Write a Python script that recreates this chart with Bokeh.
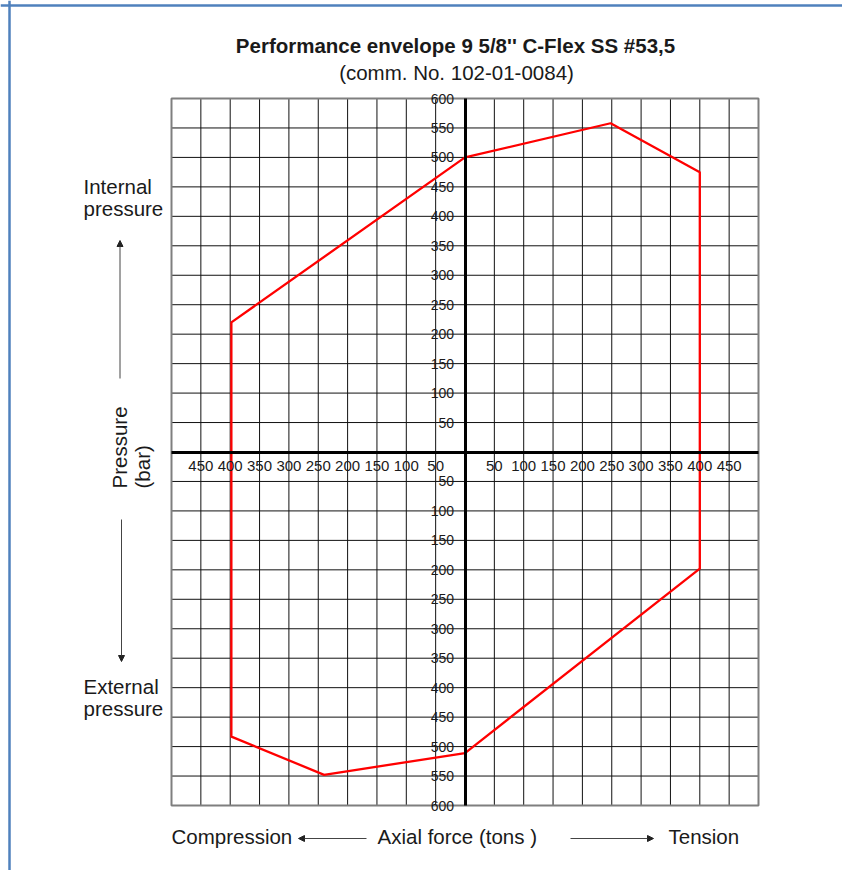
import math
from bokeh.plotting import figure
from bokeh.models import Range1d, FixedTicker, Label, Arrow, NormalHead, Span
from bokeh.embed import file_html
from bokeh.resources import INLINE

# ---------------- data ----------------
envelope_force = [0, 248, 400, 400, 0, -240, -398, -398, 0]          # tons
envelope_pressure = [500, 558, 475, -198, -511, -548, -483, 220, 500]  # bar

grid_force = [-500, -450, -400, -350, -300, -250, -200, -150, -100, -50, 0,
              50, 100, 150, 200, 250, 300, 350, 400, 450, 500]
grid_pressure = [-600, -550, -500, -450, -400, -350, -300, -250, -200, -150, -100, -50, 0,
                 50, 100, 150, 200, 250, 300, 350, 400, 450, 500, 550, 600]

x_ticks = [-450, -400, -350, -300, -250, -200, -150, -100, -50,
           50, 100, 150, 200, 250, 300, 350, 400, 450]
x_tick_labels = ["450", "400", "350", "300", "250", "200", "150", "100", "50",
                 "50", "100", "150", "200", "250", "300", "350", "400", "450"]
y_ticks = [-600, -550, -500, -450, -400, -350, -300, -250, -200, -150, -100, -50,
           50, 100, 150, 200, 250, 300, 350, 400, 450, 500, 550, 600]
y_tick_labels = ["600", "550", "500", "450", "400", "350", "300", "250", "200", "150", "100", "50",
                 "50", "100", "150", "200", "250", "300", "350", "400", "450", "500", "550", "600"]

title_text = "Performance envelope 9 5/8'' C-Flex SS #53,5"
subtitle_text = "(comm. No. 102-01-0084)"

# ---------------- layout ----------------
W, H = 842, 870
GL, GR, GT, GB = 171, 758, 98, 805     # grid edges in canvas pixels
XMIN, XMAX = grid_force[0], grid_force[-1]
YMIN, YMAX = grid_pressure[0], grid_pressure[-1]
sx = (GR - GL) / (XMAX - XMIN)
sy = (GB - GT) / (YMAX - YMIN)
xr = Range1d(XMIN - GL / sx, XMAX + (W - GR) / sx)
yr = Range1d(YMIN - (H - GB) / sy, YMAX + GT / sy)

FONT = "Liberation Sans"

p = figure(width=W, height=H, x_range=xr, y_range=yr, min_border=0,
           toolbar_location=None, output_backend="svg")
p.outline_line_color = None
p.xgrid.visible = False
p.ygrid.visible = False
p.background_fill_color = "white"
p.border_fill_color = "white"

# grid
nx, ny = len(grid_force), len(grid_pressure)
p.segment(x0=grid_force, y0=[YMIN] * nx, x1=grid_force, y1=[YMAX] * nx,
          line_color="#111111", line_width=1)
p.segment(x0=[XMIN] * ny, y0=grid_pressure, x1=[XMAX] * ny, y1=grid_pressure,
          line_color="#111111", line_width=1)
p.quad(left=[XMIN], right=[XMAX], bottom=[YMIN], top=[YMAX],
       fill_color=None, line_color="#7f7f7f", line_width=2)

# axes through the origin
xa = p.xaxis[0]
xa.fixed_location = 0
xa.bounds = (XMIN, XMAX)
xa.ticker = FixedTicker(ticks=x_ticks)
xa.major_label_overrides = dict(zip(x_ticks, x_tick_labels))
xa.axis_line_width = 3
xa.axis_line_color = "black"
xa.major_tick_line_color = None
xa.minor_tick_line_color = None
xa.major_label_standoff = 3
xa.major_label_text_font = FONT
xa.major_label_text_font_size = "15px"
xa.major_label_text_color = "#1a1a1a"

ya = p.yaxis[0]
ya.fixed_location = 0
ya.bounds = (YMIN, YMAX)
ya.ticker = FixedTicker(ticks=y_ticks)
ya.major_label_overrides = dict(zip(y_ticks, y_tick_labels))
ya.axis_line_width = 3
ya.axis_line_color = "black"
ya.major_tick_line_color = None
ya.minor_tick_line_color = None
ya.major_label_standoff = 5
ya.major_label_text_font = FONT
ya.major_label_text_font_size = "14px"
ya.major_label_text_color = "#1a1a1a"

# envelope
p.line(envelope_force, envelope_pressure, line_color="#ff0000", line_width=2.3)

# ---------------- texts ----------------
def cx(px):  # page x -> canvas screen x
    return px

def cy(py):  # page y -> screen y measured from bottom
    return H - py

def lab(text, px, py, align="left", bold=False, angle=0.0, size="20.5px", baseline="alphabetic"):
    p.add_layout(Label(x=cx(px), y=cy(py), x_units="screen", y_units="screen",
                       text=text, text_align=align, text_baseline=baseline,
                       text_font=FONT, text_font_size=size,
                       text_font_style="bold" if bold else "normal",
                       text_color="#1a1a1a", angle=angle))

lab(title_text, 455, 45, align="center", bold=True)
lab(subtitle_text, 456, 72, align="center")
lab("Internal", 83, 186)
lab("pressure", 83, 208)
lab("External", 83, 686)
lab("pressure", 83, 708)
lab("Pressure", 119, 488, angle=math.pi / 2)
lab("(bar)", 142, 488, angle=math.pi / 2)
lab("Compression", 171, 836)
lab("Axial force (tons )", 377, 836)
lab("Tension", 668, 836)

def arrow(px0, py0, px1, py1):
    p.add_layout(Arrow(x_start=cx(px0), y_start=cy(py0), x_end=cx(px1), y_end=cy(py1),
                       start_units="screen", end_units="screen",
                       line_color="#444444", line_width=1,
                       end=NormalHead(size=6, fill_color="#222222", line_color="#222222")))

arrow(119.5, 378, 119.5, 240)
arrow(121, 519, 121, 661)
arrow(366, 838, 298, 838)
arrow(570, 838, 653, 838)

# page frame lines (blue)
p.add_layout(Span(location=9, location_units="screen", dimension="height",
                  line_color="#4f81bd", line_width=2.5))
p.add_layout(Span(location=H - 5, location_units="screen", dimension="width",
                  line_color="#4f81bd", line_width=2.5))

open("out.html", "w").write(file_html(p, INLINE))
